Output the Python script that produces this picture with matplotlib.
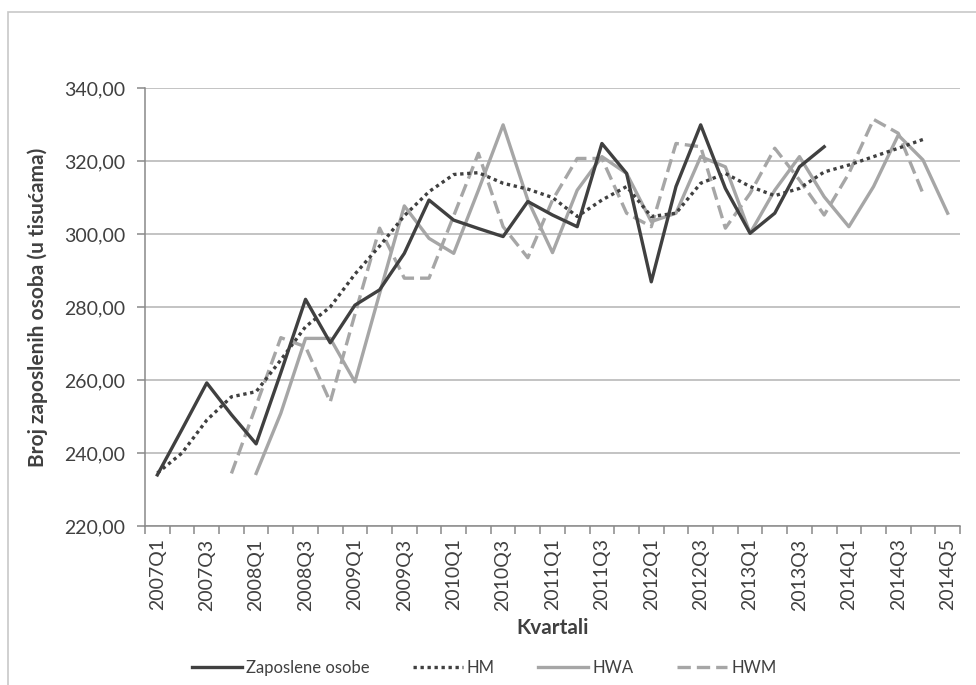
import matplotlib
matplotlib.use("Agg")
import matplotlib.pyplot as plt
import numpy as np

# kvartali 2007Q1 .. 2014Q5
kvartali = [f"{g}Q{q}" for g in range(2007, 2014) for q in range(1, 5)] + \
           ["2014Q1", "2014Q2", "2014Q3", "2014Q4", "2014Q5"]

zaposlene = [234, 246.5, 259.2, 250.5, 242.5, 262, 282.1, 270.2, 280.5, 284.7,
             294.7, 309.3, 303.8, 301.5, 299.3, 308.9, 305.2, 302, 324.8, 316.6,
             286.9, 313, 329.9, 312.5, 300.2, 305.7, 318.4, 323.9]

hm = [234.5, 240, 249, 255.4, 256.8, 265.5, 274.6, 280, 289, 296.7,
      305, 311.6, 316.3, 316.8, 313.9, 312.3, 310, 304.8, 309.3, 313,
      304.8, 305.7, 313.9, 316.6, 313, 310.5, 312.5, 317, 318.9, 321.2,
      323.5, 325.9]

hwa = [None, None, None, None, 234.4, 250.9, 271.4, 271.4, 259.5, 283.7,
       307.7, 298.8, 294.7, 312, 329.9, 309.3, 294.9, 312, 321.2, 316.6,
       303.4, 305.7, 321.2, 318.4, 300.2, 312, 321.2, 310.2, 302, 313,
       327.1, 320.3, 305.7]

hwm = [None, None, None, 234.4, 253, 271.6, 269.1, 254, 278, 301.6,
       287.9, 287.9, 305, 322.1, 302, 293.5, 309.3, 320.7, 320.7, 305.7,
       302, 324.8, 323.9, 301.6, 311.1, 323.5, 314.8, 305.2, 316.6, 331.4,
       327.6, 311.1]

def arr(v):
    return np.array([np.nan if x is None else x for x in v], dtype=float)

tamna = "#404040"
svijetla = "#a6a6a6"
FONT = "Lato"

fig = plt.figure(figsize=(9.76, 6.85), dpi=100)
ax = fig.add_axes([145/976, 1-526/685, (960-145)/976, (526-88)/685])

# okvir grafikona
okvir = plt.Rectangle((8/976, -0.1), 1.2, 1.1-12/685, transform=fig.transFigure,
                      fill=False, edgecolor="#c8c8c8", linewidth=1.2)
fig.patches.append(okvir)

x = np.arange(len(kvartali))
ax.plot(np.arange(len(zaposlene)), zaposlene, color=tamna, lw=2.4,
        label="Zaposlene osobe", zorder=4)
ax.plot(np.arange(len(hm)), hm, color=tamna, lw=2.4, ls=(0, (1, 1.1)),
        dash_capstyle="butt", label="HM", zorder=5)
ax.plot(np.arange(len(hwa)), arr(hwa), color=svijetla, lw=2.4,
        label="HWA", zorder=3)
ax.plot(np.arange(len(hwm)), arr(hwm), color=svijetla, lw=2.4, ls=(0, (4, 1.8)),
        dash_capstyle="butt", label="HWM", zorder=3)

ax.set_xlim(-0.5, len(kvartali) - 0.5)
ax.set_ylim(220, 340)
ax.set_yticks(np.arange(220, 341, 20))
ax.set_yticklabels([f"{v:.2f}".replace(".", ",") for v in np.arange(220, 341, 20)],
                   fontsize=14, color="#404040", family=FONT)
ax.yaxis.grid(True, color="#b3b3b3", lw=1.1)
ax.set_axisbelow(True)

ax.set_xticks(x[::2])
ax.set_xticklabels(kvartali[::2], rotation=90, fontsize=14, color="#404040", family=FONT)
ax.set_xticks(np.arange(-0.5, len(kvartali)), minor=True)
ax.tick_params(axis="x", which="major", length=0, pad=9)
ax.tick_params(axis="x", which="minor", length=6, color="#898989", width=1.1)
ax.tick_params(axis="y", length=6, color="#898989", width=1.1, pad=8)

for s in ["top", "right"]:
    ax.spines[s].set_visible(False)
for s in ["left", "bottom"]:
    ax.spines[s].set_color("#898989")
    ax.spines[s].set_linewidth(1.1)

ax.set_ylabel("Broj zaposlenih osoba (u tisućama)", fontsize=15, fontweight="bold",
              color="#404040", family=FONT, labelpad=12)
ax.set_xlabel("Kvartali", fontsize=15, fontweight="bold", color="#404040",
              family=FONT, labelpad=5)

fig.legend(loc="center", bbox_to_anchor=(484/976, 1-668/685), ncol=4, frameon=False,
           prop={"family": FONT, "size": 12}, handlelength=3.0,
           handletextpad=0.25, columnspacing=2.6, labelcolor="#404040")

fig.savefig("out.png", dpi=100)
